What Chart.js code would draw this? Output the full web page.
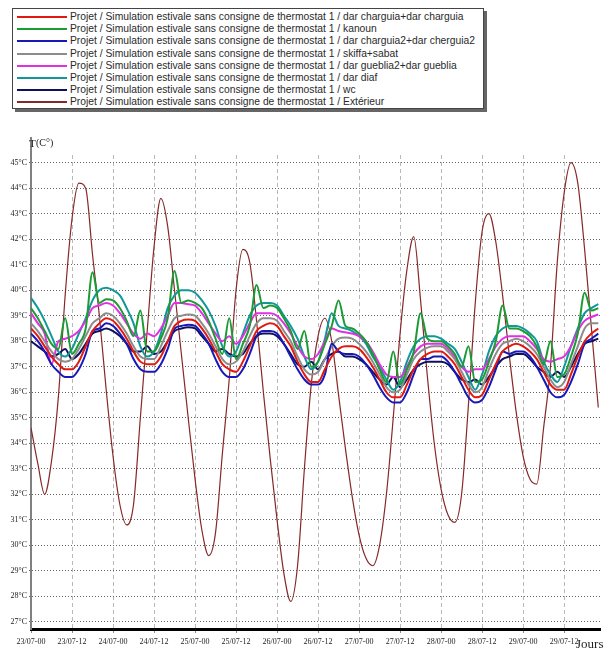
<!DOCTYPE html>
<html>
<head>
<meta charset="utf-8">
<script src="https://cdn.jsdelivr.net/npm/chart.js@4.4.0/dist/chart.umd.min.js"></script>
<style>
  body { margin: 0; background: #fff; width: 605px; height: 655px; position: relative; overflow: hidden; }
  #legend {
    position: absolute; left: 12px; top: 8px; width: 472px; height: 101px;
    border: 1px solid #444; box-shadow: 3px 3px 0 #666; background: #fff;
    font-family: 'Liberation Sans', Arial, sans-serif; font-size: 10.3px; color: #2a2a2a;
    padding-top: 2px; box-sizing: border-box;
  }
  #legend .row { height: 12.2px; line-height: 12.2px; white-space: nowrap; position: relative; }
  #legend .sw { position: absolute; left: 4px; top: 5px; width: 50px; height: 2px; }
  #legend .lb { position: absolute; left: 57px; top: 0; }
  #chart { position: absolute; left: 0; top: 130px; }
</style>
</head>
<body>
<div id="legend"></div>
<canvas id="chart" width="605" height="525"></canvas>
<script>
// hours since 23/07 00h, every 2 hours
const hours = [
  0, 2, 4, 6, 8, 10, 12, 14, 16, 18, 20, 22,
  24, 26, 28, 30, 32, 34, 36, 38, 40, 42, 44, 46,
  48, 50, 52, 54, 56, 58, 60, 62, 64, 66, 68, 70,
  72, 74, 76, 78, 80, 82, 84, 86, 88, 90, 92, 94,
  96, 98, 100, 102, 104, 106, 108, 110, 112, 114, 116, 118,
  120, 122, 124, 126, 128, 130, 132, 134, 136, 138, 140, 142,
  144, 146, 148, 150, 152, 154, 156, 158, 160, 162, 164, 166
];

const xTickLabels = ['23/07-00', '23/07-12', '24/07-00', '24/07-12', '25/07-00', '25/07-12', '26/07-00',
  '26/07-12', '27/07-00', '27/07-12', '28/07-00', '28/07-12', '29/07-00', '29/07-12'];
const yTicks = [27, 28, 29, 30, 31, 32, 33, 34, 35, 36, 37, 38, 39, 40, 41, 42, 43, 44, 45];

const prefix = 'Projet / Simulation estivale sans consigne de thermostat 1 / ';
const seriesNames = ['dar charguia+dar charguia', 'kanoun', 'dar charguia2+dar cherguia2', 'skiffa+sabat',
  'dar gueblia2+dar gueblia', 'dar diaf', 'wc', 'Extérieur'];
const seriesColors = ['#e01a10', '#1c9a34', '#1818b8', '#8c8c8c', '#e030e0', '#109898', '#10105e', '#862828'];

const charguia = [
  38.5, 38.2, 37.8, 37.4, 37.1, 36.9, 36.9, 37.2, 37.8, 38.4, 38.7, 38.9,
  38.8, 38.5, 38.1, 37.6, 37.2, 37.1, 37.1, 37.4, 38.0, 38.6, 38.8, 38.85,
  38.8, 38.5, 38.1, 37.6, 37.1, 36.9, 36.8, 37.2, 37.8, 38.4, 38.6, 38.7,
  38.6, 38.2, 37.8, 37.2, 36.7, 36.4, 36.4, 36.9, 37.4, 37.7, 37.8, 37.8,
  37.7, 37.4, 37.0, 36.5, 36.0, 35.8, 35.8, 36.3, 36.9, 37.3, 37.5, 37.6,
  37.6, 37.4, 37.1, 36.6, 36.1, 35.8, 35.9, 36.5, 37.1, 37.6, 37.8, 37.9,
  37.8, 37.6, 37.3, 36.8, 36.3, 36.1, 36.1, 36.7, 37.4, 38.0, 38.3, 38.5
];
const kanoun = [
  39.3, 38.9, 38.4, 37.9, 37.7, 38.9, 37.5, 37.9, 38.5, 40.7, 39.5, 39.65,
  39.6, 39.3, 38.8, 38.2, 39.2, 37.6, 37.6, 38.1, 38.9, 40.75, 39.5, 39.6,
  39.5, 39.3, 38.8, 38.1, 37.5, 38.9, 37.3, 37.9, 38.6, 40.2, 39.3, 39.4,
  39.3, 38.9, 38.4, 37.7, 38.4, 37.0, 37.2, 37.9, 38.6, 39.6, 38.6, 38.5,
  38.3, 38.0, 37.5, 36.9, 36.4, 37.6, 36.3, 36.9, 37.6, 39.1, 38.1, 38.0,
  38.0, 37.8, 37.5, 37.0, 37.8, 36.4, 36.5, 37.2, 38.0, 39.4, 38.5, 38.5,
  38.4, 38.2, 37.8, 37.1, 38.0, 36.6, 36.7, 37.4, 38.3, 39.9, 39.2, 39.3
];
const charguia2 = [
  38.3, 38.0, 37.6, 37.1, 36.8, 36.6, 36.6, 36.9, 37.5, 38.4, 38.5, 38.7,
  38.6, 38.3, 37.9, 37.3, 36.9, 36.8, 36.8, 37.1, 37.7, 38.5, 38.6, 38.65,
  38.6, 38.3, 37.9, 37.3, 36.8, 36.6, 36.6, 36.9, 37.5, 38.2, 38.4, 38.4,
  38.3, 37.9, 37.4, 36.9, 36.5, 36.3, 36.3, 36.7, 37.9, 37.6, 37.5, 37.5,
  37.4, 37.1, 36.7, 36.2, 35.8, 35.6, 35.6, 36.0, 36.7, 37.3, 37.3, 37.4,
  37.4, 37.2, 36.8, 36.3, 35.8, 35.6, 35.7, 36.2, 36.9, 37.6, 37.5, 37.6,
  37.6, 37.4, 37.0, 36.5, 36.0, 35.8, 35.9, 36.4, 37.1, 37.9, 38.1, 38.3
];
const skiffa = [
  38.7, 38.4, 38.0, 37.6, 37.3, 37.2, 37.3, 37.7, 38.2, 38.7, 38.9, 39.1,
  39.0, 38.7, 38.3, 37.8, 37.4, 37.3, 37.3, 37.8, 38.4, 38.9, 39.0, 39.05,
  39.0, 38.7, 38.3, 37.8, 37.3, 37.1, 37.2, 37.6, 38.2, 38.7, 38.9, 38.9,
  38.8, 38.4, 38.0, 37.4, 36.9, 36.7, 36.8, 37.3, 37.8, 38.1, 38.15, 38.1,
  37.9, 37.6, 37.2, 36.7, 36.2, 36.0, 36.1, 36.7, 37.3, 37.6, 37.75, 37.8,
  37.8, 37.6, 37.3, 36.8, 36.3, 36.0, 36.2, 36.9, 37.5, 37.9, 38.0, 38.1,
  38.0, 37.8, 37.5, 37.0, 36.5, 36.2, 36.4, 37.1, 37.8, 38.5, 38.7, 38.7
];
const gueblia = [
  39.1, 38.7, 38.3, 37.1, 38.0, 38.1, 38.2, 38.4, 38.8, 39.3, 39.4, 39.5,
  39.4, 39.1, 38.7, 38.3, 38.1, 38.3, 38.2, 38.5, 39.0, 39.5, 39.5, 39.45,
  39.4, 39.1, 38.7, 38.3, 38.0, 38.2, 37.9, 38.2, 38.7, 39.1, 39.1, 39.1,
  39.0, 38.7, 38.3, 37.8, 37.4, 37.3, 37.5, 38.0, 38.5, 38.4, 38.35, 38.3,
  38.2, 38.0, 37.6, 37.1, 36.7, 36.6, 36.6, 37.0, 37.5, 37.8, 37.9, 37.9,
  37.9, 37.7, 37.4, 37.0, 36.8, 36.9, 36.9, 37.3, 37.8, 38.1, 38.2, 38.2,
  38.2, 38.0, 37.7, 37.3, 37.2, 37.3, 37.4, 37.8, 38.4, 38.8, 38.95, 39.05
];
const diaf = [
  39.7, 39.3, 38.8, 38.2, 37.6, 37.4, 37.7, 38.3, 38.9, 39.6, 40.0, 40.1,
  40.0, 39.8, 39.3, 38.7, 37.8, 37.4, 37.6, 38.3, 39.3, 39.8, 40.0, 40.0,
  39.9, 39.6, 39.2, 38.6, 37.8, 37.4, 37.6, 38.3, 39.0, 39.4, 39.5, 39.5,
  39.4, 39.0, 38.6, 38.1, 37.4, 36.9, 37.2, 38.1, 39.1, 38.6, 38.5, 38.4,
  38.2, 37.9, 37.4, 37.0, 36.5, 36.1, 36.4, 37.2, 37.8, 38.1, 38.2, 38.2,
  38.1, 37.9, 37.7, 37.2, 36.6, 36.1, 36.7, 37.6, 38.2, 38.5, 38.6, 38.6,
  38.5, 38.3, 38.0, 37.2, 36.7, 36.4, 37.0, 37.8, 38.5, 39.1, 39.3, 39.45
];
const wc = [
  38.0, 37.8, 37.6, 37.4, 37.5, 37.7, 37.3, 37.5, 37.9, 38.3, 38.4, 38.5,
  38.4, 38.2, 37.9, 37.6, 37.6, 37.8, 37.5, 37.6, 38.0, 38.4, 38.5, 38.55,
  38.5, 38.2, 37.9, 37.6, 37.7, 37.5, 37.4, 37.5, 37.9, 38.2, 38.3, 38.3,
  38.2, 37.9, 37.5, 37.1, 37.0, 37.2, 36.9, 37.3, 37.5, 37.6, 37.4, 37.4,
  37.3, 37.1, 36.8, 36.5, 36.3, 36.6, 36.2, 36.5, 36.9, 37.1, 37.2, 37.2,
  37.2, 37.1, 36.8, 36.5, 36.4, 36.5, 36.3, 36.6, 37.0, 37.3, 37.4, 37.5,
  37.5, 37.3, 37.0, 36.8, 36.6, 36.8, 36.6, 37.0, 37.5, 37.9, 38.0, 38.1
];
const exterieur = [
  34.6, 33.2, 32.0, 33.3, 35.8, 39.8, 42.8, 44.2, 44.0, 41.4, 39.0, 36.1,
  33.5, 31.6, 30.8, 31.6, 35.0, 38.4, 41.7, 43.6, 42.5, 40.0, 37.5, 35.0,
  32.6, 30.6, 29.6, 30.5, 33.6, 36.5, 40.0, 41.6, 41.1, 38.8, 36.0, 33.4,
  31.0, 28.9, 27.8, 29.2, 33.0, 36.3, 38.2, 38.9, 38.0, 35.9, 33.8, 31.9,
  30.4, 29.5, 29.2, 30.0, 32.0, 35.0, 38.3, 40.8, 42.1, 39.6, 36.6, 34.0,
  32.2, 31.2, 30.9, 32.0, 35.5, 39.5, 42.3, 43.0, 41.9, 39.8, 37.4, 35.2,
  33.5, 32.6, 32.4, 34.6, 37.0, 41.1, 43.8, 45.0, 44.2, 41.6, 38.5, 35.4
];

const seriesValues = [charguia, kanoun, charguia2, skiffa, gueblia, diaf, wc, exterieur];

// legend (HTML box like the original)
const legendEl = document.getElementById('legend');
seriesNames.forEach((name, i) => {
  const row = document.createElement('div');
  row.className = 'row';
  row.innerHTML = '<span class="sw" style="background:' + seriesColors[i] + '"></span><span class="lb"></span>';
  row.querySelector('.lb').textContent = prefix + name;
  legendEl.appendChild(row);
});

const datasets = seriesValues.map((vals, i) => ({
  label: prefix + seriesNames[i],
  data: hours.map((h, k) => ({ x: h, y: vals[k] })),
  borderColor: seriesColors[i],
  borderWidth: i === 7 ? 1.2 : 2,
  pointRadius: 0,
  fill: false,
  cubicInterpolationMode: 'monotone'
}));

const axisText = {
  id: 'axisText',
  afterDraw(chart) {
    const { ctx, chartArea } = chart;
    ctx.save();
    // vertical axis goes a bit above the plot
    ctx.strokeStyle = '#808080';
    ctx.lineWidth = 2;
    ctx.beginPath();
    ctx.moveTo(chartArea.left, chartArea.top);
    ctx.lineTo(chartArea.left, chartArea.top - 18);
    ctx.stroke();
    ctx.fillStyle = '#222';
    ctx.textBaseline = 'alphabetic';
    ctx.font = '11px "Liberation Serif", serif';
    ctx.fillText('T', chartArea.left - 2, chartArea.top - 8);
    ctx.font = '10px "Liberation Serif", serif';
    ctx.fillText('(C°)', chartArea.left + 5, chartArea.top - 9);
    ctx.font = '13px "Liberation Serif", serif';
    ctx.fillText('Jours', chartArea.right - 24, chartArea.bottom + 19);
    ctx.restore();
  }
};

const tickFont = { family: '"Liberation Serif", serif', size: 8 };

new Chart(document.getElementById('chart').getContext('2d'), {
  type: 'line',
  data: { datasets },
  plugins: [axisText],
  options: {
    responsive: false,
    animation: false,
    devicePixelRatio: 1,
    layout: { padding: { top: 25, right: 5, left: 0, bottom: 0 } },
    plugins: { legend: { display: false }, tooltip: { enabled: false } },
    scales: {
      x: {
        type: 'linear',
        min: 0,
        max: 166.5,
        afterFit: s => { s.height = 26; },
        afterBuildTicks: s => { s.ticks = xTickLabels.map((_, i) => ({ value: i * 12 })); },
        ticks: {
          autoSkip: false,
          maxRotation: 0,
          padding: 4,
          color: '#222',
          font: tickFont,
          callback: v => xTickLabels[Math.round(v / 12)]
        },
        grid: { color: '#b8b8b8', lineWidth: 1, tickLength: 4, tickColor: '#888' },
        border: { display: true, color: '#000', width: 3, dash: [4, 3] }
      },
      y: {
        min: 26.72,
        max: 45.3,
        afterFit: s => { s.width = 31; },
        afterBuildTicks: s => { s.ticks = yTicks.map(v => ({ value: v })); },
        ticks: {
          padding: 2,
          color: '#222',
          font: tickFont,
          callback: v => v + '°C'
        },
        grid: { color: '#666', lineWidth: 1, tickLength: 2 },
        border: { display: true, color: '#808080', width: 2, dash: [1, 2] }
      }
    }
  }
});
</script>
</body>
</html>
